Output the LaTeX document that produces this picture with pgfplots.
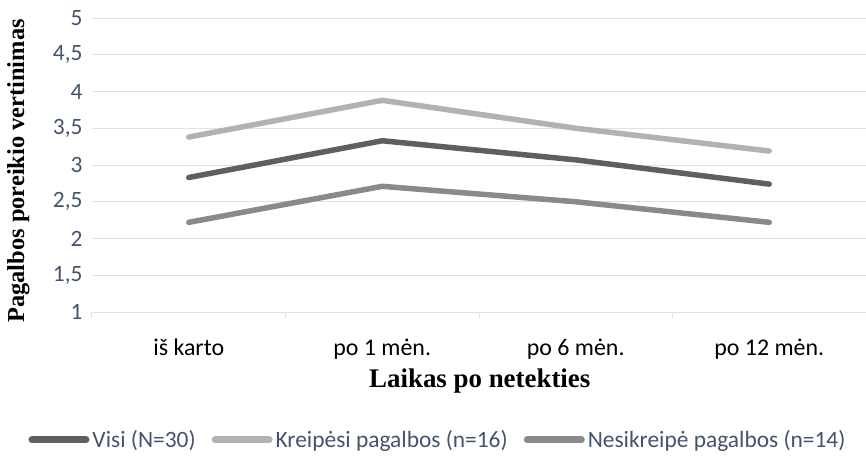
\documentclass[border=0pt]{standalone}
\usepackage{fontspec}
\setmainfont{Carlito}
\newfontfamily\serifb{Liberation Serif}
\usepackage{pgfplots}
\pgfplotsset{compat=1.18}
\definecolor{cVisi}{HTML}{5F5F5F}
\definecolor{cKre}{HTML}{B2B2B2}
\definecolor{cNes}{HTML}{8A8A8A}
\definecolor{gridc}{HTML}{DDE2E8}
\definecolor{ytxt}{HTML}{44546A}
\begin{document}
\begin{tikzpicture}
\begin{axis}[
  scale only axis,
  width=774bp, height=294bp,
  xmin=-0.5, xmax=3.5, ymin=1, ymax=5,
  xtick={0,1,2,3},
  xticklabels={iš karto, po 1 mėn., po 6 mėn., po 12 mėn.},
  extra x ticks={-0.5,0.5,1.5,2.5,3.5},
  extra x tick labels={},
  extra x tick style={major tick length=6bp, tick align=outside, xtick style={draw=gridc, line width=1bp}, grid=none},
  ytick={1,1.5,2,2.5,3,3.5,4,4.5,5},
  yticklabels={1,{1,5},2,{2,5},3,{3,5},4,{4,5},5},
  ymajorgrids,
  grid style={draw=gridc, line width=1bp},
  axis x line*=bottom, axis y line*=left,
  x axis line style={draw=gridc, line width=1bp, -},
  y axis line style={draw=none},
  major tick length=0pt,
  xticklabel style={font=\fontsize{24}{28}\selectfont, text=black, anchor=base, yshift=-43bp},
  yticklabel style={font=\fontsize{23.5}{28}\selectfont, text=ytxt, xshift=-6bp},
  xlabel={Laikas po netekties},
  ylabel={Pagalbos poreikio vertinimas},
  xlabel style={font=\serifb\bfseries\fontsize{27}{32}\selectfont, at={(axis description cs:0.501,-0.235)}, anchor=center},
  ylabel style={font=\serifb\bfseries\fontsize{24.5}{30}\selectfont, at={(axis description cs:-0.095,0.48)}, anchor=center},
  legend columns=3,
  legend style={draw=none, fill=none, at={(0.447,-0.435)}, anchor=center,
    font=\fontsize{23.5}{28}\selectfont, text=ytxt, inner sep=0pt,
    /tikz/every odd column/.append style={column sep=1bp},
    /tikz/every even column/.append style={column sep=14bp}},
  legend image code/.code={\draw[#1, line cap=round, line width=7bp] (0bp,0bp) -- (54bp,0bp);},
  clip=false,
]
\addplot[cVisi, line width=5.5bp, line join=round, line cap=round] coordinates {(0,2.83) (1,3.33) (2,3.07) (3,2.74)};
\addlegendentry{Visi (N=30)}
\addplot[cKre, line width=5.5bp, line join=round, line cap=round] coordinates {(0,3.38) (1,3.88) (2,3.50) (3,3.19)};
\addlegendentry{Kreipėsi pagalbos (n=16)}
\addplot[cNes, line width=5.5bp, line join=round, line cap=round] coordinates {(0,2.22) (1,2.71) (2,2.50) (3,2.22)};
\addlegendentry{Nesikreipė pagalbos (n=14)}
\coordinate (bl) at (rel axis cs:0,0);
\coordinate (tr) at (rel axis cs:1,1);
\end{axis}
\pgfresetboundingbox
\path[use as bounding box] ([shift={(-92bp,-146bp)}]bl) rectangle ([shift={(0bp,18bp)}]tr);
\end{tikzpicture}
\end{document}
